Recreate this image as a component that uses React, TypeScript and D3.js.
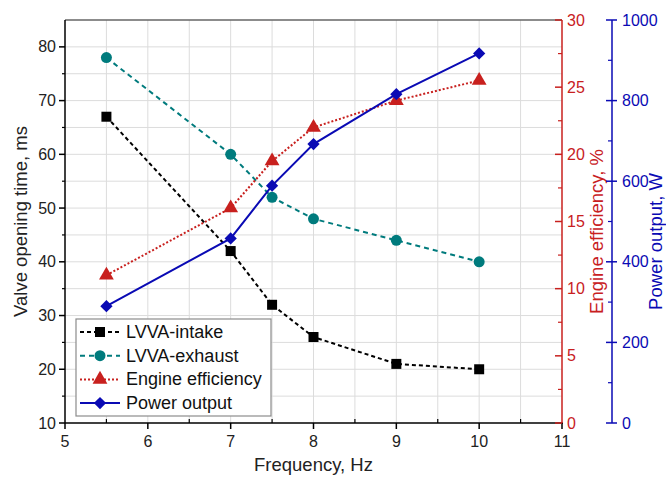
import React from "react";
import * as d3 from "d3";

// frequency points (Hz)
const freq = [5.5, 7, 7.5, 8, 9, 10];
// valve opening times, ms (left axis)
const intake = [67, 42, 32, 26, 21, 20];
const exhaust = [78, 60, 52, 48, 44, 40];
// engine efficiency, % (first right axis)
const efficiency = [11, 16, 19.5, 22, 24, 25.5];
// power output, W (second right axis)
const power = [290, 458, 589, 692, 816, 917];

const xTicks = [5, 6, 7, 8, 9, 10, 11];
const leftTicks = [10, 20, 30, 40, 50, 60, 70, 80];
const effTicks = [0, 5, 10, 15, 20, 25, 30];
const powTicks = [0, 200, 400, 600, 800, 1000];

const legendNames = ["LVVA-intake", "LVVA-exhaust", "Engine efficiency", "Power output"];

const FONT = "'Liberation Sans', Arial, sans-serif";
const RED = "#c8201e";
const BLUE = "#0a0ab4";
const TEAL = "#007b7d";

export default function App() {
  const left = 65, right = 562, top = 20, bottom = 423;

  const x = d3.scaleLinear().domain([5, 11]).range([left, right]);
  const yL = d3.scaleLinear().domain([10, 85]).range([bottom, top]);
  const yE = d3.scaleLinear().domain([0, 30]).range([bottom, top]);
  const yP = d3.scaleLinear().domain([0, 1000]).range([bottom, top]);

  // rot = extra rotation of the marker (diamond = square turned 45deg)
  const series = [
    { name: legendNames[0], vals: intake, y: yL, color: "#000", dash: "4,3", sym: d3.symbolSquare, size: 100, rot: 0 },
    { name: legendNames[1], vals: exhaust, y: yL, color: TEAL, dash: "5,4", sym: d3.symbolCircle, size: 95, rot: 0 },
    { name: legendNames[2], vals: efficiency, y: yE, color: RED, dash: "2,2", sym: d3.symbolTriangle, size: 95, rot: 0 },
    { name: legendNames[3], vals: power, y: yP, color: BLUE, dash: "", sym: d3.symbolSquare, size: 75, rot: 45 },
  ];

  const vGrid = d3.range(5.5, 11, 0.5);
  const hGrid = d3.range(15, 85, 5);
  const xMinor = d3.range(5.5, 11, 1);
  const leftMinor = d3.range(15, 85, 10);
  const effMinor = d3.range(2.5, 30, 5);
  const powMinor = d3.range(100, 1000, 200);

  const legX = 76, legY = 319;

  return (
    <svg width={666} height={477} style={{ position: "absolute", left: 0, top: 0, background: "#fff" }} fontFamily={FONT}>
      {/* grid */}
      {vGrid.map((v) => (
        <line key={"vg" + v} x1={x(v)} x2={x(v)} y1={top} y2={bottom} stroke="#dcdcdc" strokeWidth={1} />
      ))}
      {hGrid.map((v) => (
        <line key={"hg" + v} x1={left} x2={right} y1={yL(v)} y2={yL(v)} stroke="#dcdcdc" strokeWidth={1} />
      ))}

      {/* frame top */}
      <line x1={left} x2={right} y1={top} y2={top} stroke="#666" strokeWidth={1.5} />

      {/* series */}
      {series.map((s) => {
        const line = d3.line<number>().x((_, i) => x(freq[i])).y((d) => s.y(d));
        return (
          <g key={s.name}>
            <path d={line(s.vals) || ""} fill="none" stroke={s.color} strokeWidth={2} strokeDasharray={s.dash} />
            {s.vals.map((v, i) => (
              <path key={i} d={d3.symbol().type(s.sym).size(s.size)() || ""} transform={`translate(${x(freq[i])},${s.y(v)}) rotate(${s.rot})`} fill={s.color} />
            ))}
          </g>
        );
      })}

      {/* x axis */}
      <line x1={left} x2={right + 1} y1={bottom} y2={bottom} stroke="#000" strokeWidth={1.5} />
      {xTicks.map((t) => (
        <g key={"xt" + t}>
          <line x1={x(t)} x2={x(t)} y1={bottom} y2={bottom + 6} stroke="#000" strokeWidth={1.5} />
          <text x={x(t)} y={447} fontSize={16} textAnchor="middle" fill="#222">{t}</text>
        </g>
      ))}
      {xMinor.map((t) => (
        <line key={"xm" + t} x1={x(t)} x2={x(t)} y1={bottom} y2={bottom - 4} stroke="#000" strokeWidth={1.2} />
      ))}
      <text x={(left + right) / 2} y={471} fontSize={18.5} textAnchor="middle" fill="#222">Frequency, Hz</text>

      {/* left axis */}
      <line x1={left} x2={left} y1={top} y2={bottom} stroke="#000" strokeWidth={1.5} />
      {leftTicks.map((t) => (
        <g key={"lt" + t}>
          <line x1={left - 6} x2={left} y1={yL(t)} y2={yL(t)} stroke="#000" strokeWidth={1.5} />
          <text x={left - 9} y={yL(t) + 5.5} fontSize={16} textAnchor="end" fill="#222">{t}</text>
        </g>
      ))}
      {leftMinor.map((t) => (
        <line key={"lm" + t} x1={left - 3} x2={left} y1={yL(t)} y2={yL(t)} stroke="#000" strokeWidth={1.2} />
      ))}
      <text transform={`translate(27,${(top + bottom) / 2}) rotate(-90)`} fontSize={18.5} textAnchor="middle" fill="#222">
        Valve opening time, ms
      </text>

      {/* efficiency axis */}
      <line x1={right} x2={right} y1={top} y2={bottom} stroke={RED} strokeWidth={1.5} />
      {effTicks.map((t) => (
        <g key={"et" + t}>
          <line x1={right - 7} x2={right} y1={yE(t)} y2={yE(t)} stroke={RED} strokeWidth={1.5} />
          <text x={right + 5} y={yE(t) + 5.5} fontSize={16} fill={RED}>{t}</text>
        </g>
      ))}
      {effMinor.map((t) => (
        <line key={"em" + t} x1={right - 4} x2={right} y1={yE(t)} y2={yE(t)} stroke={RED} strokeWidth={1.2} />
      ))}
      <text transform={`translate(603,${(top + bottom) / 2 + 10}) rotate(-90)`} fontSize={18.5} textAnchor="middle" fill={RED}>
        Engine efficiency, %
      </text>

      {/* power axis */}
      <line x1={612} x2={612} y1={top} y2={bottom} stroke={BLUE} strokeWidth={1.5} />
      {powTicks.map((t) => (
        <g key={"pt" + t}>
          <line x1={606} x2={617} y1={yP(t)} y2={yP(t)} stroke={BLUE} strokeWidth={1.5} />
          <text x={622} y={yP(t) + 5.5} fontSize={16} fill={BLUE}>{t}</text>
        </g>
      ))}
      {powMinor.map((t) => (
        <line key={"pm" + t} x1={608} x2={612} y1={yP(t)} y2={yP(t)} stroke={BLUE} strokeWidth={1.2} />
      ))}
      <text transform={`translate(662,${(top + bottom) / 2 + 20}) rotate(-90)`} fontSize={18.5} textAnchor="middle" fill={BLUE}>
        Power output, W
      </text>

      {/* legend */}
      <rect x={legX} y={legY} width={195} height={97} fill="#fff" stroke="#8c8c8c" strokeWidth={1.2} />
      {series.map((s, i) => {
        const cy = legY + 13 + i * 23.7;
        return (
          <g key={"lg" + i}>
            <line x1={legX + 4} x2={legX + 44} y1={cy} y2={cy} stroke={s.color} strokeWidth={2} strokeDasharray={s.dash} />
            <path d={d3.symbol().type(s.sym).size(s.size)() || ""} transform={`translate(${legX + 24},${cy}) rotate(${s.rot})`} fill={s.color} />
            <text x={legX + 50} y={cy + 6} fontSize={18} fill="#111">{s.name}</text>
          </g>
        );
      })}
    </svg>
  );
}
